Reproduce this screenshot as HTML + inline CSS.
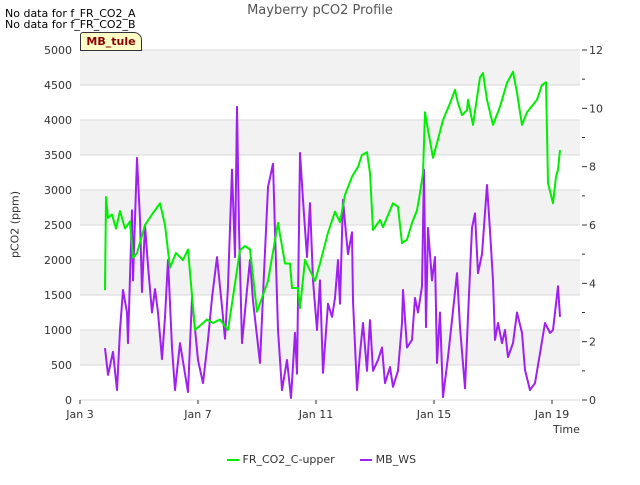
<!DOCTYPE html>
<html><head><meta charset="utf-8"><style>
body{margin:0;background:#fff}
svg{font-family:"DejaVu Sans","Liberation Sans",sans-serif}
</style></head><body>
<svg id="c" width="640" height="480" xmlns="http://www.w3.org/2000/svg"></svg>
<script>
const xTickLabels=["Jan 3","Jan 7","Jan 11","Jan 15","Jan 19"];
const xTickDays=[0,4,8,12,16];
const yLeftTicks=[0,500,1000,1500,2000,2500,3000,3500,4000,4500,5000];
const yRightTicks=[0,2,4,6,8,10,12];
const co2X=[105,106,108,112,116,120,125,130,133,137,145,152,160,165,170,176,183,188,195,207,213,220,228,240,245,250,257,268,278,285,290,292,298,300,305,315,320,328,335,340,345,352,358,362,367,370,373,380,383,393,398,402,407,412,417,420,423,425,428,433,437,443,450,455,458,462,467,468,473,480,483,487,493,500,507,513,517,522,527,537,542,546,548,553,556,558,560];
const co2V=[1570,2900,2600,2650,2450,2700,2450,2550,2030,2100,2500,2650,2810,2500,1890,2100,2000,2150,1000,1150,1100,1150,1000,2140,2200,2150,1260,1700,2530,1950,1950,1600,1600,1310,2000,1700,1950,2390,2690,2540,2930,3190,3330,3500,3540,3240,2430,2570,2470,2810,2760,2240,2290,2530,2710,2960,3240,4110,3860,3460,3670,4000,4240,4430,4240,4070,4140,4290,3930,4610,4670,4290,3930,4190,4530,4690,4390,3930,4110,4290,4500,4540,3100,2810,3190,3290,3570];
const wsX=[105,108,113,117,120,123,127,128,132,133,137,140,142,145,148,152,155,158,162,165,168,172,175,180,185,188,192,198,203,208,212,217,222,225,228,232,235,237,239,242,247,250,253,260,264,268,273,275,278,282,287,291,295,297,300,303,307,310,313,317,320,323,328,332,335,338,340,343,346,348,352,353,357,360,363,367,370,373,378,382,385,390,393,398,402,403,407,412,415,418,422,424,426,428,432,435,437,440,443,448,452,457,460,465,468,472,475,478,482,487,490,493,495,498,502,505,508,513,517,522,525,530,535,540,545,550,553,558,560];
const wsV=[1.78,0.86,1.65,0.34,2.4,3.77,3.0,1.95,6.5,4.1,8.3,6.2,3.7,6.0,4.6,3.0,3.8,3.0,1.4,2.85,4.8,1.8,0.34,1.95,0.9,0.27,3.5,1.37,0.58,2.06,3.5,4.9,3.2,2.1,3.9,7.9,4.9,10.05,5.9,1.95,3.77,4.8,3.4,1.27,4.35,7.3,8.1,5.8,2.4,0.34,1.37,0.07,2.3,0.9,8.47,6.86,4.9,6.75,4.1,2.4,4.1,0.93,3.3,2.85,3.5,4.8,3.3,6.86,5.7,5.0,5.75,3.4,0.34,1.6,2.64,1.0,2.74,1.0,1.37,1.8,0.58,1.13,0.45,1.0,2.64,3.77,1.8,2.06,3.5,3.0,3.9,7.9,2.5,5.9,4.1,4.9,1.27,3.0,0.1,1.47,2.74,4.35,2.5,0.4,2.85,5.9,6.4,4.35,5.0,7.37,5.8,4.1,2.06,2.64,1.95,2.4,1.47,1.95,3.0,2.3,1.03,0.34,0.58,1.6,2.64,2.3,2.4,3.9,2.85];
const L=80,R=580,T=50,B=400;
const sx=d=>L+d*29.5;
const pxToDay=p=>(p-L)/29.5;
const syL=v=>B-(v/5000)*(B-T);
const syR=v=>B-(v/12)*(B-T);
const svg=document.getElementById('c');
const NS="http://www.w3.org/2000/svg";
function mk(tag,attrs,txt){const e=document.createElementNS(NS,tag);for(const k in attrs)e.setAttribute(k,attrs[k]);if(txt!==undefined)e.textContent=txt;svg.appendChild(e);return e;}
// bands
for(let i=0;i<10;i++){if(i%2===1){const r=mk('rect',{x:L,y:syL((i+1)*500),width:R-L,height:syL(i*500)-syL((i+1)*500),fill:'#f2f2f2'});

}}
yLeftTicks.forEach(v=>{const g=mk('line',{x1:L,x2:R,y1:syL(v),y2:syL(v),stroke:'#d9d9d9','stroke-width':1});


const t=mk('text',{x:L-8,y:syL(v)+4,'text-anchor':'end','font-size':11,fill:'#333'},String(v));

});
for(let v=0;v<=12;v++){const tk=mk('line',{x1:R+2,x2:R+(v%2===0?7:5),y1:syR(v),y2:syR(v),stroke:'#333'});

}
yRightTicks.forEach(v=>{const t=mk('text',{x:R+9,y:syR(v)+4,'font-size':11,fill:'#333'},String(v));

});
xTickDays.forEach((d,i)=>{const t=mk('text',{x:sx(d),y:B+18,'text-anchor':'middle','font-size':11,fill:'#333'},xTickLabels[i]);


const tk=mk('line',{x1:sx(d),x2:sx(d),y1:B,y2:B+4,stroke:'#333'});

});
function line(xs,vs,sy,col,name){const p=mk('polyline',{points:xs.map((x,i)=>sx(pxToDay(x))+','+sy(vs[i])).join(' '),fill:'none',stroke:col,'stroke-width':2,'stroke-linejoin':'round'});

}
line(wsX,wsV,syR,'#a020f0','series-mb-ws');
line(co2X,co2V,syL,'#00ee00','series-fr-co2-c-upper');
</script>
<div style="position:absolute;left:0;top:0;width:640px;height:480px;font-family:'DejaVu Sans','Liberation Sans',sans-serif;pointer-events:none">
<div style="position:absolute;left:0;width:640px;top:3px;text-align:center;font-size:13px;color:#555">Mayberry pCO2 Profile</div>
<div style="position:absolute;left:5px;top:7px;font-size:11px;color:#000">No data for f_FR_CO2_A</div>
<div style="position:absolute;left:5px;top:18px;font-size:11px;color:#000">No data for f_FR_CO2_B</div>
<div style="position:absolute;left:80px;top:32px;width:60px;height:17px;background:#ffffc8;border:1px solid #333;border-radius:3px 8px 0 0;font-size:11px;font-weight:bold;color:#8b0000;text-align:center;line-height:17px">MB_tule</div>
<div style="position:absolute;left:-25px;top:218px;width:80px;text-align:center;transform:rotate(-90deg);font-size:11px;color:#333">pCO2 (ppm)</div>
<div style="position:absolute;left:553px;top:423px;font-size:11px;color:#333">Time</div>
<div style="position:absolute;left:227px;top:453px;font-size:11px;color:#333">
<span><span style="display:inline-block;width:12px;height:2px;background:#00ee00;vertical-align:middle"></span> FR_CO2_C-upper</span>
<span style="margin-left:22px"><span style="display:inline-block;width:12px;height:2px;background:#a020f0;vertical-align:middle"></span> MB_WS</span>
</div></div>
</body></html>
